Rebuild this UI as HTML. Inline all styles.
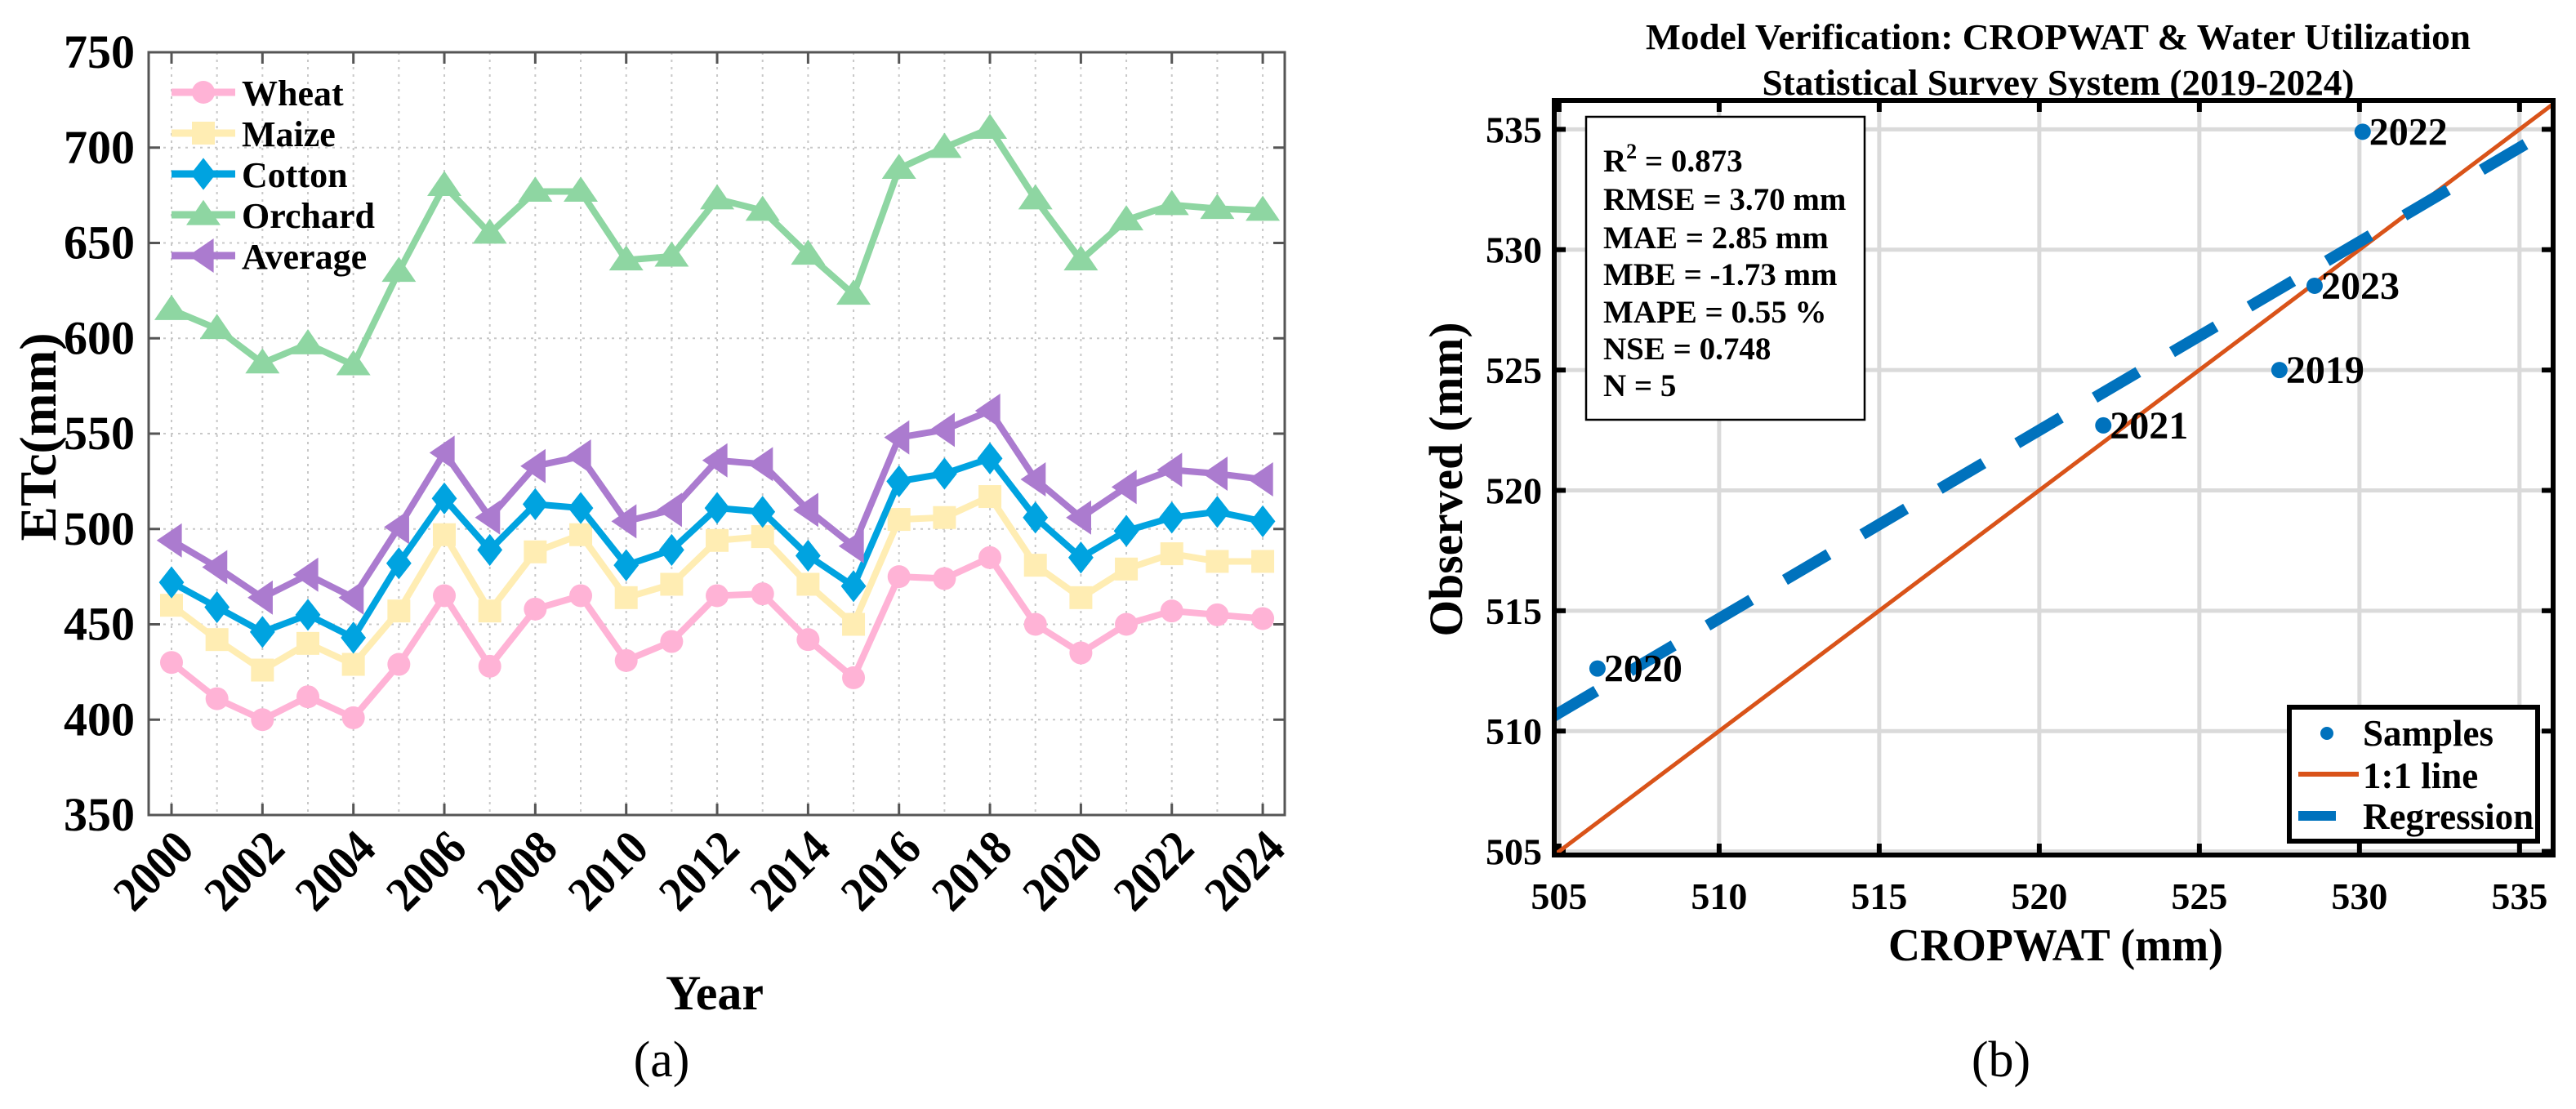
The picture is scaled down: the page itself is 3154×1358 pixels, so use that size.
<!DOCTYPE html>
<html><head><meta charset="utf-8"><style>
html,body{margin:0;padding:0;background:#fff;}
svg{display:block;font-family:"Liberation Serif",serif;}
</style></head><body>
<svg id="fig" width="3154" height="1358" viewBox="0 0 3154 1358" xmlns="http://www.w3.org/2000/svg">
<g id="pa"></g>
<g id="pb"></g>
</svg>
<script>
const years = [2000,2001,2002,2003,2004,2005,2006,2007,2008,2009,2010,2011,2012,2013,2014,2015,2016,2017,2018,2019,2020,2021,2022,2023,2024];
const wheat = [430,411,400,412,401,429,465,428,458,465,431,441,465,466,442,422,475,474,485,450,435,450,457,455,453];
const maize = [460,442,426,440,429,457,497,457,488,497,464,471,494,496,471,450,505,506,517,481,464,479,487,483,483];
const cotton = [472,459,446,455,443,482,516,489,513,511,481,489,511,509,486,470,525,529,537,506,485,499,506,509,504];
const orchard = [615,605,587,597,586,635,680,655,677,677,641,643,673,667,644,623,689,700,710,673,641,662,670,668,667];
const average = [494,480,464,476,464,501,540,506,533,538,504,510,536,534,510,491,548,552,562,526,506,522,531,529,526];
const yTicksA = [350,400,450,500,550,600,650,700,750];
const xTicksA = [2000,2002,2004,2006,2008,2010,2012,2014,2016,2018,2020,2022,2024];

const sampleYears = ["2019","2020","2021","2022","2023"];
const cropwat = [527.5,506.2,522.0,530.1,528.6];
const observed = [525.0,512.6,522.7,534.9,528.5];
const regStart = [504.8,510.6];
const regEnd = [536.1,535.1];
const ticksB = [505,510,515,520,525,530,535];
const statsLines = ["RMSE = 3.70 mm","MAE = 2.85 mm","MBE = -1.73 mm","MAPE = 0.55 %","NSE = 0.748","N = 5"];

const NS="http://www.w3.org/2000/svg";
function mk(parent,tag,attrs,text){const e=document.createElementNS(NS,tag);for(const k in attrs)e.setAttribute(k,attrs[k]);if(text!==undefined)e.textContent=text;parent.appendChild(e);return e;}

// ---------- Chart A ----------
const A=document.getElementById('pa');
const L=182,R=1573,T=64,B=998;
const xA=y=>210+(y-2000)*55.67;
const yA=v=>B-(v-350)*(B-T)/400;
mk(A,'rect',{x:L,y:T,width:R-L,height:B-T,fill:'#fff'});
yTicksA.forEach(v=>{
  const g=mk(A,'line',{x1:L,x2:R,y1:yA(v),y2:yA(v),stroke:'#c8c8c8','stroke-width':2,'stroke-dasharray':'3 6'});
  
  
  mk(A,'line',{x1:L,x2:L+14,y1:yA(v),y2:yA(v),stroke:'#555','stroke-width':3});
  mk(A,'line',{x1:R,x2:R-14,y1:yA(v),y2:yA(v),stroke:'#555','stroke-width':3});
  const t=mk(A,'text',{x:165,y:yA(v)+19,'text-anchor':'end','font-size':58,'font-weight':'bold'},v);
  
  
});
years.forEach(y=>{
  mk(A,'line',{x1:xA(y),x2:xA(y),y1:T,y2:B,stroke:'#c8c8c8','stroke-width':2,'stroke-dasharray':'3 6'});
});
xTicksA.forEach(y=>{
  mk(A,'line',{x1:xA(y),x2:xA(y),y1:B,y2:B-14,stroke:'#555','stroke-width':3});
  mk(A,'line',{x1:xA(y),x2:xA(y),y1:T,y2:T+14,stroke:'#555','stroke-width':3});
  const t=mk(A,'text',{x:xA(y)+30,y:B+44,'text-anchor':'end','font-size':60,'font-weight':'bold',textLength:108,lengthAdjust:'spacingAndGlyphs',transform:`rotate(-45 ${xA(y)+30} ${B+44})`},y);
  
  
});
mk(A,'rect',{x:L,y:T,width:R-L,height:B-T,fill:'none',stroke:'#555','stroke-width':3});

function marker(g,type,x,y,c,s){
  if(type==='circle') return mk(g,'circle',{cx:x,cy:y,r:s*0.5,fill:c});
  if(type==='square') return mk(g,'rect',{x:x-s*0.5,y:y-s*0.5,width:s,height:s,fill:c});
  if(type==='diamond') return mk(g,'polygon',{points:`${x},${y-s*0.7} ${x+s*0.55},${y} ${x},${y+s*0.7} ${x-s*0.55},${y}`,fill:c});
  if(type==='tri') return mk(g,'polygon',{points:`${x},${y-s*0.65} ${x+s*0.75},${y+s*0.45} ${x-s*0.75},${y+s*0.45}`,fill:c});
  if(type==='left') return mk(g,'polygon',{points:`${x-s*0.65},${y} ${x+s*0.45},${y-s*0.75} ${x+s*0.45},${y+s*0.75}`,fill:c});
}
const series=[
  {name:'Wheat',data:wheat,c:'#FFB3D6',m:'circle'},
  {name:'Maize',data:maize,c:'#FFEDB3',m:'square'},
  {name:'Cotton',data:cotton,c:'#00A3E0',m:'diamond'},
  {name:'Orchard',data:orchard,c:'#8ED6A2',m:'tri'},
  {name:'Average',data:average,c:'#AB7BCF',m:'left'}
];
series.forEach((s,i)=>{
  const g=mk(A,'g',{});
  
  
  const pl=mk(g,'polyline',{points:s.data.map((v,k)=>xA(years[k])+','+yA(v)).join(' '),fill:'none',stroke:s.c,'stroke-width':8,'stroke-linejoin':'round'});
  
  
  s.data.forEach((v,k)=>{
    const mm=marker(g,s.m,xA(years[k]),yA(v),s.c,28);
    
    
  });
  const ly=113+i*50;
  const lg=mk(A,'g',{});
  
  
  mk(lg,'line',{x1:210,x2:288,y1:ly,y2:ly,stroke:s.c,'stroke-width':9});
  marker(lg,s.m,249,ly,s.c,28);
  mk(lg,'text',{x:296,y:ly+16,'font-size':44,'font-weight':'bold'},s.name);
});
const yl=mk(A,'text',{x:68,y:535,'text-anchor':'middle','font-size':64,'font-weight':'bold',textLength:255,lengthAdjust:'spacingAndGlyphs',transform:'rotate(-90 68 535)'},'ETc(mm)');


const xl=mk(A,'text',{x:875,y:1236,'text-anchor':'middle','font-size':60,'font-weight':'bold'},'Year');


const ca=mk(A,'text',{x:810,y:1318,'text-anchor':'middle','font-size':62},'(a)');



// ---------- Chart B ----------
const P=document.getElementById('pb');
const bL=1903,bR=3126,bT=123,bB=1047;
const dMinX=504.85,dMaxX=536.05,dMinY=504.85,dMaxY=536.2;
const xB=v=>bL+(v-dMinX)*(bR-bL)/(dMaxX-dMinX);
const yB=v=>bB-(v-dMinY)*(bB-bT)/(dMaxY-dMinY);
const cp=mk(P,'clipPath',{id:'cpb'});mk(cp,'rect',{x:bL,y:bT,width:bR-bL,height:bB-bT});
ticksB.forEach(v=>{
  mk(P,'line',{x1:bL,x2:bR,y1:yB(v),y2:yB(v),stroke:'#dadada','stroke-width':5});
  mk(P,'line',{x1:xB(v),x2:xB(v),y1:bT,y2:bB,stroke:'#dadada','stroke-width':5});
});
ticksB.forEach(v=>{
  mk(P,'line',{x1:bL,x2:bL+14,y1:yB(v),y2:yB(v),stroke:'#000','stroke-width':6});
  mk(P,'line',{x1:bR,x2:bR-14,y1:yB(v),y2:yB(v),stroke:'#000','stroke-width':6});
  mk(P,'line',{x1:xB(v),x2:xB(v),y1:bB,y2:bB-14,stroke:'#000','stroke-width':6});
  mk(P,'line',{x1:xB(v),x2:xB(v),y1:bT,y2:bT+14,stroke:'#000','stroke-width':6});
  const ty=mk(P,'text',{x:1888,y:yB(v)+16,'text-anchor':'end','font-size':46,'font-weight':'bold'},v);
  
  
  const tx=mk(P,'text',{x:xB(v),y:1113,'text-anchor':'middle','font-size':46,'font-weight':'bold'},v);
  
  
});
const cl=mk(P,'g',{'clip-path':'url(#cpb)'});
const one=mk(cl,'line',{x1:xB(dMinX),y1:yB(dMinX),x2:xB(dMaxY),y2:yB(dMaxY),stroke:'#D95319','stroke-width':5});


const reg=mk(cl,'line',{x1:xB(regStart[0]),y1:yB(regStart[1]),x2:xB(regEnd[0]),y2:yB(regEnd[1]),stroke:'#0072BD','stroke-width':14,'stroke-dasharray':'62 48'});


sampleYears.forEach((yr,i)=>{
  const c=mk(P,'circle',{cx:xB(cropwat[i]),cy:yB(observed[i]),r:10,fill:'#0072BD'});
  
  
  const t=mk(P,'text',{x:xB(cropwat[i])+8,y:yB(observed[i])+16,'font-size':48,'font-weight':'bold'},yr);
  
  
});
mk(P,'rect',{x:bL,y:bT,width:bR-bL,height:bB-bT,fill:'none',stroke:'#000','stroke-width':6});
const sb=mk(P,'g',{});


mk(sb,'rect',{x:1942,y:143,width:341,height:371,fill:'#fff',stroke:'#000','stroke-width':2.5});
const r2=mk(sb,'text',{x:1963,y:210,'font-size':39,'font-weight':'bold'});
mk(r2,'tspan',{},'R');mk(r2,'tspan',{dy:-16,'font-size':26},'2');mk(r2,'tspan',{dy:16},' = 0.873');
const sy=[257,304,349,395,440,485];
statsLines.forEach((s,i)=>mk(sb,'text',{x:1963,y:sy[i],'font-size':39,'font-weight':'bold'},s));
const lgb=mk(P,'g',{});


mk(lgb,'rect',{x:2803,y:866,width:304,height:164,fill:'#fff',stroke:'#000','stroke-width':6});
mk(lgb,'circle',{cx:2849,cy:898,r:8,fill:'#0072BD'});
mk(lgb,'line',{x1:2814,x2:2888,y1:948,y2:948,stroke:'#D95319','stroke-width':6});
mk(lgb,'line',{x1:2814,x2:2860,y1:999,y2:999,stroke:'#0072BD','stroke-width':12});
mk(lgb,'text',{x:2893,y:913,'font-size':45,'font-weight':'bold'},'Samples');
mk(lgb,'text',{x:2893,y:965,'font-size':45,'font-weight':'bold'},'1:1 line');
mk(lgb,'text',{x:2893,y:1015,'font-size':45,'font-weight':'bold'},'Regression');
const t1=mk(P,'text',{x:2520,y:60,'text-anchor':'middle','font-size':44,'font-weight':'bold',textLength:1010,lengthAdjust:'spacingAndGlyphs'},'Model Verification: CROPWAT & Water Utilization');


mk(P,'text',{x:2520,y:116,'text-anchor':'middle','font-size':44,'font-weight':'bold',textLength:725,lengthAdjust:'spacingAndGlyphs'},'Statistical Survey System (2019-2024)');
const xlb=mk(P,'text',{x:2517,y:1176,'text-anchor':'middle','font-size':56,'font-weight':'bold',textLength:410,lengthAdjust:'spacingAndGlyphs'},'CROPWAT (mm)');


const ylb=mk(P,'text',{x:1790,y:587,'text-anchor':'middle','font-size':58,'font-weight':'bold',textLength:385,lengthAdjust:'spacingAndGlyphs',transform:'rotate(-90 1790 587)'},'Observed (mm)');


const cb=mk(P,'text',{x:2450,y:1318,'text-anchor':'middle','font-size':62},'(b)');


</script>
</body></html>
